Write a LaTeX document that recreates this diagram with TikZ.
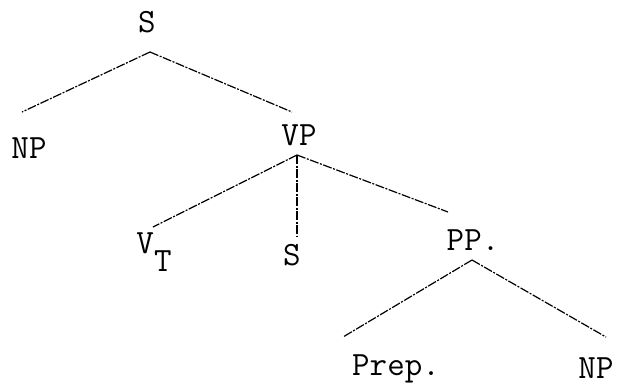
\documentclass[tikz,border=0pt]{standalone}
\usetikzlibrary{calc}

\begin{document}
\begin{tikzpicture}[
    x=1pt, y=1pt,
    label/.style={font=\fontsize{34}{40}\selectfont\ttfamily, inner sep=0pt},
    branch/.style={line width=1.2pt, dash pattern=on 9pt off 1.5pt on 2pt off 1.5pt}
]
    \useasboundingbox (0,0) rectangle (631,-389);

    % category labels
    \node[label] (s)    at (147,-22)  {S};
    \node[label] (np)   at (29,-148)  {NP};
    \node[label] (vp)   at (299,-135) {VP};
    \node[label] (vt)   at (154,-252) {V\raisebox{-0.55em}{T}};
    \node[label] (s2)   at (292,-255) {S};
    \node[label] (pp)   at (473,-240) {PP.};
    \node[label] (prep) at (396,-369) {Prep.};
    \node[label] (np2)  at (596,-368) {NP};

    % where the branches meet and end
    \coordinate (s-j)    at (150,-52);
    \coordinate (vp-j)   at (297,-155);
    \coordinate (pp-j)   at (472,-260);
    \coordinate (np-t)   at (22,-112);
    \coordinate (vp-t)   at (292,-112);
    \coordinate (vt-t)   at (153,-227);
    \coordinate (s2-t)   at (297,-237);
    \coordinate (pp-t)   at (448,-212);
    \coordinate (prep-t) at (343,-337);
    \coordinate (np2-t)  at (606,-337);

    \draw[branch] (s-j)  -- (np-t);
    \draw[branch] (s-j)  -- (vp-t);
    \draw[branch] (vp-j) -- (vt-t);
    \draw[branch] (vp-j) -- (s2-t);
    \draw[branch] (vp-j) -- (pp-t);
    \draw[branch] (pp-j) -- (prep-t);
    \draw[branch] (pp-j) -- (np2-t);
\end{tikzpicture}
\end{document}
